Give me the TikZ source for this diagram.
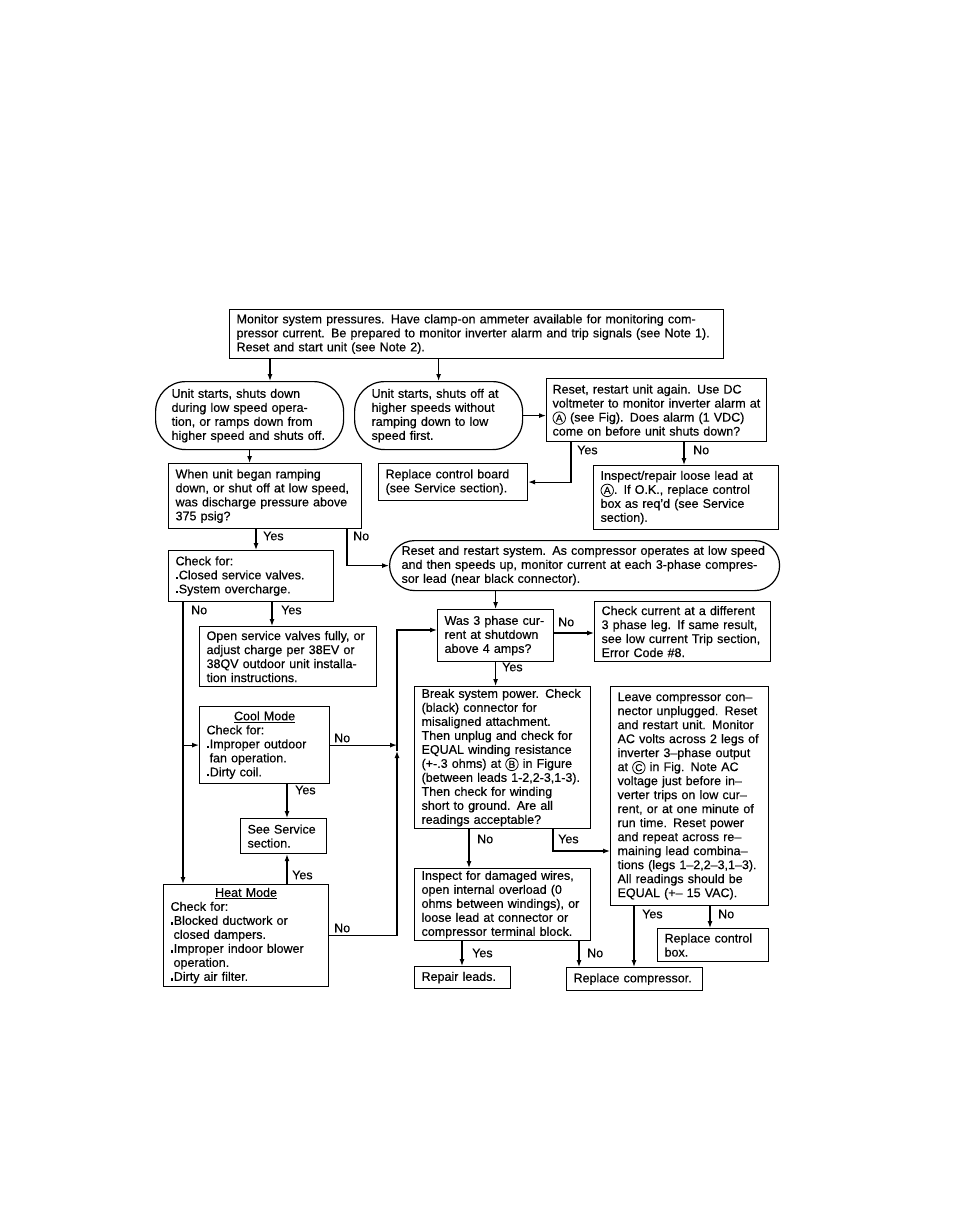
\documentclass[tikz,border=0pt]{standalone}
\usepackage{fontspec}
\usepackage{graphicx}
\setmainfont{Liberation Sans}[FakeBold=0.35]
\usetikzlibrary{arrows.meta}
\newcommand\fs{\fontsize{12.5}{14}\selectfont}
\newcommand\circled[1]{\tikz[baseline=(cc.base)]\node[circle, draw, line width=0.8pt, inner sep=0.6pt, minimum size=12.5pt, font=\fontsize{10}{10}\selectfont] (cc) {#1};}
\newcommand\bul{\rule[0.3pt]{2.4pt}{2.4pt}\kern0.8pt}
\newcommand\ind{\hspace*{3pt}}
\tikzset{
  bx/.style={draw, line width=1.2pt, rectangle, anchor=north west, align=left,
    inner xsep=7pt, inner ysep=2pt, font=\fs},
  arr/.style={line width=1.2pt, -{Latex[length=7pt,width=5pt]}},
  lab/.style={font=\fs, inner sep=1pt, anchor=west}
}
\begin{document}
\begin{tikzpicture}[x=1pt,y=-1pt]
\fill[white] (0,0) rectangle (954,1225);
\useasboundingbox (0,0) rectangle (954,1225);

% ---------- nodes ----------
\node[bx, minimum width=494pt, minimum height=49pt, text width=480pt] (top) at (229,309)
 {Monitor system pressures.  Have clamp-on ammeter available for monitoring com-\\
  pressor current.  Be prepared to monitor inverter alarm and trip signals (see Note 1).\\
  Reset and start unit (see Note 2).};

\node[bx, rounded corners=30pt, inner xsep=16pt, minimum width=188pt, minimum height=68pt, text width=156pt] (s1) at (155,381)
 {Unit starts, shuts down\\during low speed opera-\\tion, or ramps down from\\higher speed and shuts off.};

\node[bx, rounded corners=30pt, inner xsep=17pt, minimum width=168pt, minimum height=68pt, text width=134pt] (s2) at (354,381)
 {Unit starts, shuts off at\\higher speeds without\\ramping down to low\\speed first.};

\node[bx, inner xsep=6pt, minimum width=220pt, minimum height=63pt, text width=208pt] (rbox) at (546,378)
 {Reset, restart unit again.  Use DC\\voltmeter to monitor inverter alarm at\\\circled{A} (see Fig).  Does alarm (1 VDC)\\come on before unit shuts down?};

\node[bx, minimum width=149pt, minimum height=37pt, text width=135pt] (board) at (378,463)
 {Replace control board\\(see Service section).};

\node[bx, minimum width=185pt, minimum height=64pt, text width=171pt] (insp1) at (593,465)
 {Inspect/repair loose lead at\\\circled{A}.  If O.K., replace control\\box as req'd (see Service\\section).};

\node[bx, minimum width=193pt, minimum height=65pt, text width=179pt] (when) at (168,463)
 {When unit began ramping\\down, or shut off at low speed,\\was discharge pressure above\\375 psig?};

\node[bx, minimum width=165pt, minimum height=51pt, text width=151pt] (check) at (168,550)
 {Check for:\\\bul Closed service valves.\\\bul System overcharge.};

\node[bx, minimum width=177pt, minimum height=60pt, text width=163pt] (open) at (199,626)
 {Open service valves fully, or\\adjust charge per 38EV or\\38QV outdoor unit installa-\\tion instructions.};

\node[bx, minimum width=130pt, minimum height=77pt, text width=116pt] (cool) at (199,706)
 {\makebox[116pt][c]{\underline{Cool Mode}}\\Check for:\\\bul Improper outdoor\\\ind fan operation.\\\bul Dirty coil.};

\node[bx, minimum width=86pt, minimum height=35pt, text width=72pt] (see) at (240,818)
 {See Service\\section.};

\node[bx, minimum width=165pt, minimum height=102pt, text width=151pt] (heat) at (163,884)
 {\makebox[151pt][c]{\underline{Heat Mode}}\\Check for:\\\bul Blocked ductwork or\\\ind closed dampers.\\\bul Improper indoor blower\\\ind operation.\\\bul Dirty air filter.};

\node[bx, rounded corners=25pt, inner xsep=12pt, minimum width=390pt, minimum height=50pt, text width=366pt] (big) at (389,540)
 {Reset and restart system.  As compressor operates at low speed\\and then speeds up, monitor current at each 3-phase compres-\\sor lead (near black connector).};

\node[bx, minimum width=116pt, minimum height=52pt, text width=102pt] (was) at (437,609)
 {Was 3 phase cur-\\rent at shutdown\\above 4 amps?};

\node[bx, minimum width=176pt, minimum height=60pt, text width=162pt] (cur) at (594,601)
 {Check current at a different\\3 phase leg.  If same result,\\see low current Trip section,\\Error Code \#8.};

\node[bx, minimum width=176pt, minimum height=142pt, text width=162pt] (brk) at (414,686)
 {Break system power.  Check\\(black) connector for\\misaligned attachment.\\Then unplug and check for\\EQUAL winding resistance\\(+-.3 ohms) at \circled{B} in Figure\\(between leads 1-2,2-3,1-3).\\Then check for winding\\short to ground.  Are all\\readings acceptable?};

\node[bx, minimum width=158pt, minimum height=219pt, text width=144pt] (leave) at (610,686)
 {Leave compressor con–\\nector unplugged.  Reset\\and restart unit.  Monitor\\AC volts across 2 legs of\\inverter 3–phase output\\at \circled{C} in Fig.  Note AC\\voltage just before in–\\verter trips on low cur–\\rent, or at one minute of\\run time.  Reset power\\and repeat across re–\\maining lead combina–\\tions (legs 1–2,2–3,1–3).\\All readings should be\\EQUAL (+– 15 VAC).};

\node[bx, minimum width=176pt, minimum height=72pt, text width=162pt] (dmg) at (414,868)
 {Inspect for damaged wires,\\open internal overload (0\\ohms between windings), or\\loose lead at connector or\\compressor terminal block.};

\node[bx, minimum width=96pt, minimum height=22pt, text width=82pt] (rep) at (414,966)
 {Repair leads.};

\node[bx, minimum width=136pt, minimum height=23pt, text width=122pt] (comp) at (566,967)
 {Replace compressor.};

\node[bx, minimum width=111pt, minimum height=33pt, text width=97pt] (ctl) at (657,928)
 {Replace control\\box.};

% ---------- helper coordinates ----------
\coordinate (xa) at (270,0);
\coordinate (xry) at (571,0);
\coordinate (xrn) at (684,0);
\coordinate (xwy) at (256,0);
\coordinate (xwn) at (347,0);
\coordinate (xcn) at (183,0);
\coordinate (xcy) at (272,0);
\coordinate (xsy) at (287,0);
\coordinate (vl) at (397,0);
\coordinate (yv) at (0,751);
\coordinate (yw) at (0,630);
\coordinate (ywn) at (0,633);
\coordinate (xbn) at (469,0);
\coordinate (xby) at (553,0);
\coordinate (ybl) at (0,851);
\coordinate (xdy) at (462,0);
\coordinate (xdn) at (579,0);
\coordinate (xly) at (634,0);
\coordinate (xln) at (710,0);

% ---------- connectors ----------
\draw[arr] (top.south -| xa) -- (s1.north -| xa);
\draw[arr] (top.south -| s2.north) -- (s2.north);
\draw[arr] (s1.south) -- (when.north -| s1.south);
\draw[arr] (s2.east) -- (rbox.west |- s2.east);
\draw[arr] (rbox.south -| xry) |- (board.east);
\draw[arr] (rbox.south -| xrn) -- (insp1.north -| xrn);
\draw[arr] (when.south -| xwy) -- (check.north -| xwy);
\draw[arr] (when.south -| xwn) |- (big.west);
\draw[arr] (check.south -| xcn) -- (heat.north -| xcn);
\draw[arr] (xcn |- cool.west) -- (cool.west);
\draw[arr] (check.south -| xcy) -- (open.north -| xcy);
\draw[arr] (cool.east) -- (cool.east -| vl);
\draw[arr] (cool.south -| xsy) -- (see.north -| xsy);
\draw[arr] (heat.north -| xsy) -- (see.south -| xsy);
\draw[arr] (heat.east) -| (vl |- yv);
\draw[arr] (vl |- yv) |- (was.west |- yw);
\draw[arr] (big.south -| was.north) -- (was.north);
\draw[arr] (was.east |- ywn) -- (cur.west |- ywn);
\draw[arr] (was.south) -- (brk.north -| was.south);
\draw[arr] (brk.south -| xbn) -- (dmg.north -| xbn);
\draw[arr] (brk.south -| xby) |- (leave.west |- ybl);
\draw[arr] (dmg.south -| xdy) -- (rep.north -| xdy);
\draw[arr] (dmg.south -| xdn) -- (comp.north -| xdn);
\draw[arr] (leave.south -| xly) -- (comp.north -| xly);
\draw[arr] (leave.south -| xln) -- (ctl.north -| xln);

% ---------- labels ----------
\node[lab] (l1) at (576,450) {Yes};
\node[lab] (l2) at (692,450) {No};
\node[lab] (l3) at (262,536) {Yes};
\node[lab] (l4) at (352,536) {No};
\node[lab] (l5) at (190,610) {No};
\node[lab] (l6) at (280,610) {Yes};
\node[lab] (l7) at (333,738) {No};
\node[lab] (l8) at (294,790) {Yes};
\node[lab] (l9) at (291,875) {Yes};
\node[lab] (l10) at (333,928) {No};
\node[lab] (l11) at (557,622) {No};
\node[lab] (l12) at (501,667) {Yes};
\node[lab] (l13) at (476,839) {No};
\node[lab] (l14) at (557,839) {Yes};
\node[lab] (l15) at (471,953) {Yes};
\node[lab] (l16) at (586,953) {No};
\node[lab] (l17) at (641,914) {Yes};
\node[lab] (l18) at (717,914) {No};
\end{tikzpicture}
\end{document}
